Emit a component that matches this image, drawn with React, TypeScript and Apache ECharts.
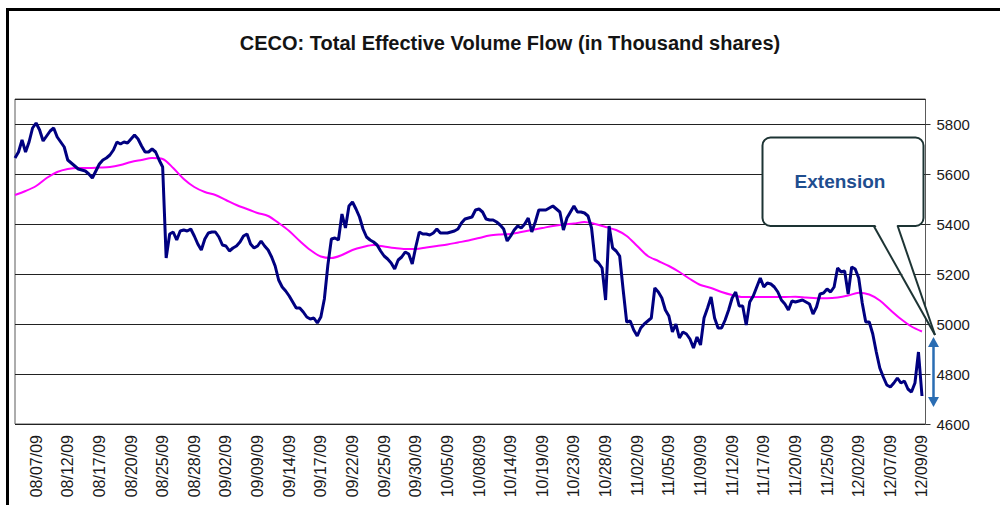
import React, { useEffect, useRef } from "react";
import * as echarts from "echarts";

// X tick labels (one every LABEL_STEP samples)
const dateLabels: string[] = [
  "08/07/09", "08/12/09", "08/17/09", "08/20/09", "08/25/09", "08/28/09",
  "09/02/09", "09/09/09", "09/14/09", "09/17/09", "09/22/09", "09/25/09",
  "09/30/09", "10/05/09", "10/08/09", "10/14/09", "10/19/09", "10/23/09",
  "10/28/09", "11/02/09", "11/05/09", "11/09/09", "11/12/09", "11/17/09",
  "11/20/09", "11/25/09", "12/02/09", "12/07/09", "12/09/09",
];

// Total Effective Volume Flow (thousand shares), one value per sample
const flowValues: number[] = [
  5664, 5688, 5736, 5688, 5728, 5784, 5804, 5776, 5732, 5752,
  5772, 5784, 5748, 5728, 5708, 5656, 5644, 5632, 5620, 5616,
  5612, 5600, 5584, 5612, 5640, 5656, 5664, 5676, 5696, 5728,
  5720, 5728, 5724, 5740, 5756, 5740, 5712, 5688, 5688, 5700,
  5688, 5656, 5628, 5264, 5360, 5368, 5336, 5372, 5376, 5372,
  5380, 5352, 5320, 5296, 5340, 5364, 5368, 5368, 5348, 5316,
  5312, 5292, 5304, 5312, 5328, 5352, 5360, 5320, 5304, 5312,
  5332, 5312, 5296, 5268, 5232, 5176, 5148, 5132, 5112, 5088,
  5064, 5064, 5048, 5028, 5020, 5024, 5004, 5028, 5100, 5236,
  5340, 5344, 5336, 5440, 5384, 5472, 5488, 5460, 5428, 5380,
  5348, 5336, 5328, 5316, 5292, 5272, 5260, 5244, 5220, 5256,
  5268, 5288, 5280, 5240, 5308, 5368, 5360, 5360, 5356, 5364,
  5380, 5364, 5364, 5364, 5368, 5372, 5380, 5404, 5420, 5424,
  5428, 5456, 5460, 5448, 5420, 5416, 5416, 5408, 5396, 5380,
  5332, 5352, 5376, 5392, 5384, 5400, 5424, 5368, 5408, 5456,
  5456, 5456, 5464, 5472, 5460, 5448, 5376, 5424, 5448, 5472,
  5448, 5448, 5444, 5432, 5384, 5256, 5244, 5224, 5096, 5392,
  5304, 5292, 5272, 5136, 5008, 5012, 4976, 4952, 4984, 5000,
  5012, 5024, 5144, 5128, 5104, 5056, 5032, 4968, 5000, 4944,
  4968, 4960, 4940, 4904, 4948, 4916, 5024, 5064, 5108, 5024,
  4984, 4984, 5016, 5056, 5104, 5128, 5072, 5072, 4996, 5088,
  5112, 5148, 5184, 5148, 5164, 5160, 5148, 5128, 5096, 5080,
  5056, 5092, 5088, 5092, 5096, 5088, 5080, 5040, 5068, 5120,
  5124, 5140, 5128, 5148, 5224, 5208, 5212, 5120, 5228, 5220,
  5184, 5084, 5008, 5008, 4960, 4888, 4824, 4788, 4756, 4748,
  4764, 4784, 4764, 4772, 4740, 4728, 4764, 4888, 4712,
];

// Moving average, one value every MA_STEP samples
const movingAvgValues: number[] = [
  5516, 5532, 5552, 5584, 5608, 5620, 5624, 5624, 5626, 5628,
  5636, 5648, 5656, 5664, 5660, 5624, 5580, 5548, 5528, 5516,
  5496, 5476, 5460, 5444, 5432, 5404, 5372, 5332, 5296, 5270,
  5264, 5276, 5296, 5308, 5316, 5310, 5304, 5300, 5300, 5306,
  5312, 5318, 5326, 5334, 5344, 5354, 5358, 5360, 5368, 5376,
  5384, 5392, 5398, 5402, 5408, 5400, 5388, 5376, 5352, 5312,
  5272, 5252, 5232, 5208, 5180, 5156, 5144, 5128, 5116, 5108,
  5108, 5108, 5108, 5108, 5109, 5106, 5103, 5103, 5106, 5114,
  5125, 5118, 5094, 5056, 5020, 4990, 4970,
];

const MA_STEP = 3;
const LABEL_STEP = 9;
const FIRST_LABEL = 6;
const CATEGORY_COUNT = 260;

const Y_MIN = 4600;
const Y_MAX = 5900;
const Y_STEP = 200;

const FONT = "Arial, 'Liberation Sans', Helvetica, sans-serif";

export default function App() {
  const ref = useRef<HTMLDivElement>(null);

  useEffect(() => {
    if (!ref.current) return;
    const chart = echarts.init(ref.current, null, { renderer: "svg" });

    const isLabel = (i: number) =>
      i >= FIRST_LABEL &&
      (i - FIRST_LABEL) % LABEL_STEP === 0 &&
      (i - FIRST_LABEL) / LABEL_STEP < dateLabels.length;

    const categories = Array.from({ length: CATEGORY_COUNT }, (_, i) =>
      isLabel(i) ? dateLabels[(i - FIRST_LABEL) / LABEL_STEP] : `#${i}`
    );

    const maData = movingAvgValues.map((v, k) => [k * MA_STEP, v]);

    const stroke = "#1d3434";

    chart.setOption({
      animation: false,
      backgroundColor: "#ffffff",
      grid: {
        left: 15,
        right: 74.5,
        top: 99,
        bottom: 81,
        show: true,
        borderColor: "#5a5a5a",
        borderWidth: 1,
        backgroundColor: "#ffffff",
      },
      xAxis: {
        type: "category",
        data: categories,
        boundaryGap: false,
        axisLine: { show: false },
        axisTick: { show: false },
        splitLine: { show: false },
        axisLabel: {
          interval: (i: number) => isLabel(i),
          rotate: 90,
          margin: 11,
          fontSize: 16,
          color: "#1a1a1a",
          fontFamily: FONT,
        },
      },
      yAxis: {
        type: "value",
        position: "right",
        min: Y_MIN,
        max: Y_MAX,
        interval: Y_STEP,
        axisLine: { show: false },
        axisTick: {
          show: true,
          length: 5,
          lineStyle: { color: "#333", width: 1 },
        },
        splitLine: { show: true, lineStyle: { color: "#222", width: 1 } },
        axisLabel: {
          margin: 11,
          fontSize: 15,
          color: "#1a1a1a",
          fontFamily: FONT,
          showMaxLabel: false,
          formatter: (v: number) => String(v),
        },
      },
      series: [
        {
          type: "line",
          name: "Moving average",
          data: maData,
          smooth: 0.3,
          showSymbol: false,
          lineStyle: { color: "#ff00ff", width: 2 },
          z: 3,
        },
        {
          type: "line",
          name: "Total Effective Volume Flow",
          data: flowValues,
          showSymbol: false,
          lineStyle: { color: "#000080", width: 3 },
          z: 4,
        },
      ],
      graphic: [
        {
          type: "rect",
          z: 50,
          shape: { x: 7.5, y: 9.5, width: 1100, height: 700 },
          style: { fill: "none", stroke: "#000", lineWidth: 3 },
          silent: true,
        },
        {
          type: "text",
          z: 50,
          x: 510,
          y: 43,
          style: {
            text: "CECO: Total Effective Volume Flow (in Thousand shares)",
            fontSize: 20,
            fontWeight: "bold",
            fontFamily: FONT,
            fill: "#141414",
            align: "center",
            verticalAlign: "middle",
          },
        },
        {
          type: "rect",
          z: 60,
          shape: { x: 762.5, y: 137.5, width: 161, height: 88.5, r: 8 },
          style: { fill: "#ffffff", stroke: stroke, lineWidth: 2 },
        },
        {
          type: "polygon",
          z: 61,
          shape: {
            points: [
              [874.5, 223.5],
              [896.5, 223.5],
              [935, 334],
            ],
          },
          style: { fill: "#ffffff" },
        },
        {
          type: "line",
          z: 62,
          shape: { x1: 873.5, y1: 225.5, x2: 935, y2: 335 },
          style: { stroke: stroke, lineWidth: 2 },
        },
        {
          type: "line",
          z: 62,
          shape: { x1: 897.5, y1: 225.5, x2: 935, y2: 335 },
          style: { stroke: stroke, lineWidth: 2 },
        },
        {
          type: "text",
          z: 63,
          x: 840,
          y: 181,
          style: {
            text: "Extension",
            fontSize: 19,
            fontWeight: "bold",
            fontFamily: FONT,
            fill: "#1f4e8f",
            align: "center",
            verticalAlign: "middle",
          },
        },
        {
          type: "line",
          z: 64,
          shape: { x1: 933.5, y1: 345, x2: 933.5, y2: 399 },
          style: { stroke: "#2a6db3", lineWidth: 2.5 },
        },
        {
          type: "polygon",
          z: 64,
          shape: {
            points: [
              [933.5, 337],
              [928, 347],
              [939, 347],
            ],
          },
          style: { fill: "#2a6db3" },
        },
        {
          type: "polygon",
          z: 64,
          shape: {
            points: [
              [933.5, 407],
              [928, 397],
              [939, 397],
            ],
          },
          style: { fill: "#2a6db3" },
        },
      ],
    });

    return () => chart.dispose();
  }, []);

  return (
    <div
      ref={ref}
      style={{
        position: "fixed",
        left: 0,
        top: 0,
        width: 1000,
        height: 505,
        background: "#fff",
      }}
    />
  );
}
